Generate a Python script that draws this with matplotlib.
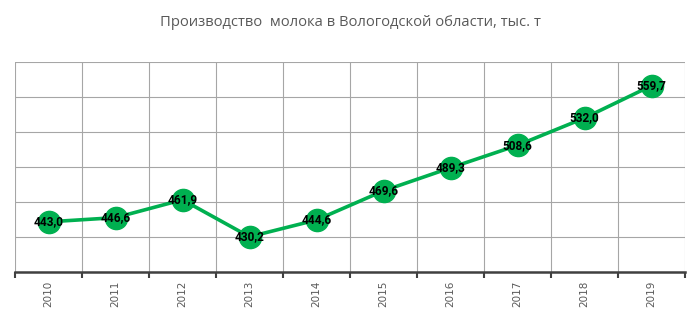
import matplotlib
matplotlib.use("Agg")
from matplotlib import pyplot as plt
import numpy as np

years = ["2010", "2011", "2012", "2013", "2014", "2015", "2016", "2017", "2018", "2019"]
milk = [443.0, 446.6, 461.9, 430.2, 444.6, 469.6, 489.3, 508.6, 532.0, 559.7]

fig = plt.figure(figsize=(7, 3.2), dpi=100)
ax = fig.add_axes([15/700, 1 - 272/320, 670/700, 210/320])

x = np.arange(len(years))
ax.plot(x, milk, c='#00B050', linewidth=2.6, marker='o', markersize=16, zorder=3)
for xi, v in zip(x, milk):
    ax.text(xi, v, f"{v:.1f}".replace(".", ","), ha='center', va='center',
            fontsize=8.6, fontweight='bold', color='black', family='Roboto', zorder=4)

ax.set_xlim(-0.5, len(years) - 0.5)
ax.set_ylim(400, 580)
ax.set_yticks(np.arange(400, 581, 30))
ax.set_yticklabels([])
ax.tick_params(axis='y', length=0)

ax.set_xticks(x)
ax.set_xticklabels(years, rotation=90, fontsize=7.5, color='#595959')
ax.tick_params(axis='x', which='major', length=0, pad=6)
ax.set_xticks(np.arange(-0.5, len(years)), minor=True)
ax.tick_params(axis='x', which='minor', length=4, width=1.5, color='#404040', direction='out')

ax.grid(which='major', axis='y', color='#a6a6a6', linewidth=0.8)
ax.grid(which='minor', axis='x', color='#a6a6a6', linewidth=0.8)
ax.set_axisbelow(True)

for s in ['top', 'right', 'left']:
    ax.spines[s].set_visible(False)
ax.spines['bottom'].set_color('#404040')
ax.spines['bottom'].set_linewidth(1.8)

fig.text(0.5, 1 - 22/320, "Производство  молока в Вологодской области, тыс. т",
         ha='center', va='center', fontsize=10.6, color='#595959', family='Open Sans')

fig.savefig("out.png", dpi=100)
